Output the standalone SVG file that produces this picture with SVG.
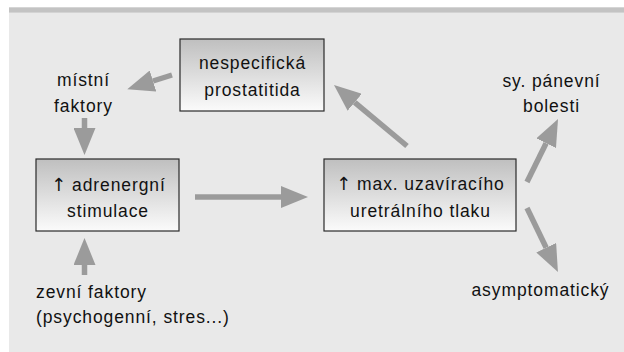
<svg xmlns="http://www.w3.org/2000/svg" width="624" height="352" viewBox="0 0 624 352">
<defs>
<linearGradient id="boxg" x1="0" y1="0" x2="0" y2="1">
<stop offset="0" stop-color="#bfbfbf"/>
<stop offset="1" stop-color="#fbfbfb"/>
</linearGradient>
<marker id="ah" markerUnits="userSpaceOnUse" viewBox="0 0 27 22" refX="0" refY="11" markerWidth="27" markerHeight="22" orient="auto">
<path d="M0,0 L27,11 L0,22 Z" fill="#9b9b9b"/>
</marker>
</defs>
<style>
.box{fill:url(#boxg);stroke:#2a2a2a;stroke-width:1.2}
.t{font-family:"Liberation Sans",Arial,sans-serif;font-size:17.5px;letter-spacing:0.9px;fill:#111;text-anchor:middle}
.ts{font-family:"Liberation Sans",Arial,sans-serif;font-size:17.5px;letter-spacing:0.9px;fill:#111;text-anchor:start}
.ar{font-family:"DejaVu Sans",sans-serif;font-size:18px;letter-spacing:0}
.c{stroke:#9b9b9b;stroke-width:5.5;fill:none;marker-end:url(#ah)}
</style>
<rect x="0" y="0" width="624" height="352" fill="#ffffff"/>
<rect x="9" y="12.7" width="615" height="339.3" fill="#e9e9e9"/>
<rect x="9" y="7.3" width="615" height="5.4" fill="#c3c3c3"/>
<g id="connectors">
<line class="c" x1="172" y1="75" x2="153" y2="81"/>
<line class="c" x1="84.5" y1="118" x2="84.5" y2="128"/>
<line class="c" x1="84.5" y1="275" x2="84.5" y2="265"/>
<line class="c" x1="195" y1="197" x2="281" y2="197"/>
<line class="c" x1="407" y1="146" x2="354.7" y2="102.3"/>
<line class="c" x1="527" y1="182" x2="546.1" y2="143.2"/>
<line class="c" x1="527" y1="208" x2="546.2" y2="247.7"/>
</g>
<g id="node-prostatitida">
<rect class="box" x="180" y="39" width="144" height="72"/>
<text class="t" x="252.5" y="69.3">nespecifická</text>
<text class="t" x="252.5" y="96">prostatitida</text>
</g>
<g id="node-adrenergni">
<rect class="box" x="36" y="159" width="143" height="72"/>
<text class="t" x="108.5" y="190.5"><tspan class="ar">↑</tspan> adrenergní</text>
<text class="t" x="108" y="216.7">stimulace</text>
</g>
<g id="node-tlak">
<rect class="box" x="324" y="159" width="192" height="72"/>
<text class="t" x="420.5" y="190"><tspan class="ar">↑</tspan> max. uzavíracího</text>
<text class="t" x="420.5" y="216.7">uretrálního tlaku</text>
</g>
<g id="node-mistni">
<text class="t" x="83.5" y="86">místní</text>
<text class="t" x="83.5" y="111.7">faktory</text>
</g>
<g id="node-panevni">
<text class="t" x="551.5" y="86.7">sy. pánevní</text>
<text class="t" x="551.5" y="111.7">bolesti</text>
</g>
<g id="node-asymptomaticky">
<text class="t" x="540.5" y="296">asymptomatický</text>
</g>
<g id="node-zevni">
<text class="ts" x="36" y="297.5">zevní faktory</text>
<text class="ts" x="36" y="323.3">(psychogenní, stres...)</text>
</g>
</svg>
